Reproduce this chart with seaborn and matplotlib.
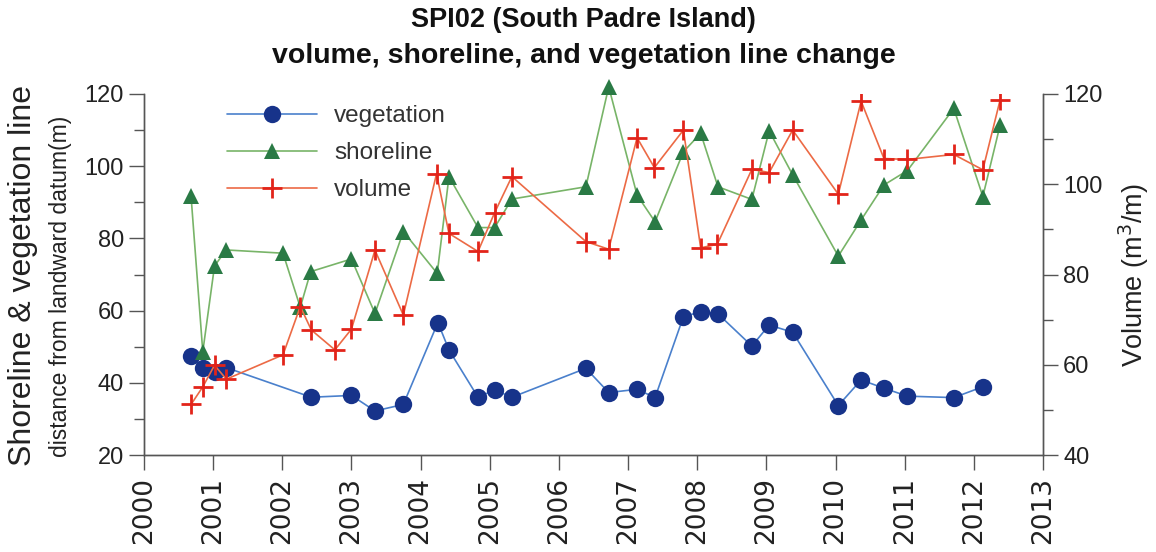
import numpy as np
import pandas as pd
import seaborn as sns
import matplotlib.pyplot as plt
from matplotlib.ticker import MultipleLocator
from matplotlib.lines import Line2D

sns.set_style('white')
plt.rcParams['font.family'] = ['Liberation Sans', 'DejaVu Sans']

# 植被线 (m)
veg_year = [2000.68, 2000.85, 2001.02, 2001.19, 2002.42, 2003.00, 2003.34, 2003.75,
            2004.25, 2004.41, 2004.83, 2005.07, 2005.32, 2006.39, 2006.72, 2007.13,
            2007.39, 2007.80, 2008.05, 2008.30, 2008.79, 2009.04, 2009.38, 2010.04,
            2010.37, 2010.70, 2011.04, 2011.71, 2012.13]
veg_val = [47.4, 44.2, 43.1, 44.2, 36.0, 36.5, 32.2, 34.0,
           56.7, 49.1, 36.0, 38.0, 36.0, 44.0, 37.3, 38.2,
           35.9, 58.3, 59.7, 59.1, 50.2, 56.0, 54.0, 33.7,
           40.8, 38.5, 36.3, 35.9, 38.9]

# 岸线 (m)
shore_year = [2000.68, 2000.85, 2001.02, 2001.19, 2002.01, 2002.26, 2002.41, 2003.00,
              2003.34, 2003.75, 2004.24, 2004.41, 2004.83, 2005.07, 2005.32, 2006.39,
              2006.72, 2007.13, 2007.39, 2007.80, 2008.05, 2008.30, 2008.79, 2009.04,
              2009.38, 2010.04, 2010.37, 2010.70, 2011.04, 2011.71, 2012.13, 2012.38]
shore_val = [91.8, 48.6, 72.4, 76.8, 75.9, 60.9, 70.8, 74.3,
             59.2, 81.9, 70.3, 97.1, 83.0, 83.0, 90.9, 94.3,
             122.0, 92.0, 84.6, 104.0, 109.1, 94.3, 90.8, 109.8,
             97.6, 75.1, 85.1, 94.8, 98.8, 116.0, 91.6, 111.4]

# 体积 (m3/m)
vol_year = [2000.68, 2000.85, 2001.02, 2001.19, 2002.01, 2002.26, 2002.42, 2002.76,
            2003.00, 2003.34, 2003.75, 2004.23, 2004.41, 2004.83, 2005.07, 2005.32,
            2006.39, 2006.72, 2007.13, 2007.38, 2007.80, 2008.05, 2008.29, 2008.79,
            2009.04, 2009.38, 2010.04, 2010.37, 2010.70, 2011.04, 2011.71, 2012.13,
            2012.38]
vol_val = [51.2, 55.1, 59.9, 56.8, 62.2, 72.9, 67.7, 63.3,
           67.9, 85.4, 71.0, 102.3, 89.1, 85.1, 93.7, 101.7,
           87.3, 85.6, 110.3, 103.7, 112.0, 85.9, 86.7, 103.3,
           102.6, 112.0, 97.8, 118.4, 105.7, 105.5, 106.6, 103.2,
           118.7]

years = list(range(2000, 2014))

fig = plt.figure(figsize=(11.56, 5.52), dpi=100)
ax = fig.add_axes([144 / 1156, 1 - 455 / 552, (1043 - 144) / 1156, (455 - 94) / 552])
ax2 = ax.twinx()

c_veg_line, c_veg_mk = '#4a80cc', '#17338a'
c_sh_line, c_sh_mk = '#78b468', '#2a7a45'
c_vol_line, c_vol_mk = '#ec6a45', '#e2241a'

sns.lineplot(x=veg_year, y=veg_val, ax=ax, estimator=None, sort=False,
             color=c_veg_line, lw=1.2, marker='o', markersize=12.5,
             markerfacecolor=c_veg_mk, markeredgecolor=c_veg_mk, markeredgewidth=0)
sns.lineplot(x=shore_year, y=shore_val, ax=ax, estimator=None, sort=False,
             color=c_sh_line, lw=1.2, marker='^', markersize=12,
             markerfacecolor=c_sh_mk, markeredgecolor=c_sh_mk, markeredgewidth=0,
             clip_on=False)
sns.lineplot(x=vol_year, y=vol_val, ax=ax2, estimator=None, sort=False,
             color=c_vol_line, lw=1.2, marker='+', markersize=15,
             markeredgecolor=c_vol_mk, markeredgewidth=2.0)

ax.set_xlim(2000, 2013)
ax.set_ylim(20, 120)
ax2.set_ylim(40, 120)
ax.set_xticks(years)
ax.set_xticklabels([str(y) for y in years], rotation=90, fontsize=19,
                   family=['DejaVu Sans'], color='#222222')
ax.yaxis.set_major_locator(MultipleLocator(20))
ax.yaxis.set_minor_locator(MultipleLocator(10))
ax2.yaxis.set_major_locator(MultipleLocator(20))
ax2.yaxis.set_minor_locator(MultipleLocator(10))
ax.tick_params(axis='y', labelsize=17, length=11, width=1, color='#555555', direction='out',
               left=True, labelcolor='#222222')
ax.tick_params(axis='y', which='minor', length=7, width=1, color='#555555', left=True)
ax.tick_params(axis='x', length=11, width=1, color='#555555', direction='out', bottom=True, pad=5)
ax2.tick_params(axis='y', labelsize=17, length=11, width=1, color='#555555', direction='out',
                right=True, labelcolor='#222222')
ax2.tick_params(axis='y', which='minor', length=7, width=1, color='#555555', right=True)
ax.set_xlabel('')
ax.set_ylabel('')
ax2.set_ylabel('')

for a in (ax, ax2):
    a.spines['top'].set_visible(False)
    for s in ('left', 'bottom', 'right'):
        a.spines[s].set_color('#555555')
        a.spines[s].set_linewidth(1)

# 标题和轴标签
fig.text(0.505, 1 - 20 / 552, 'SPI02 (South Padre Island)', ha='center', va='center',
         fontsize=19.5, fontweight='bold', color='#111111')
fig.text(0.505, 1 - 56 / 552, 'volume, shoreline, and vegetation line change', ha='center', va='center',
         fontsize=20.5, fontweight='bold', color='#111111')
fig.text(23 / 1156, 1 - 275 / 552, 'Shoreline & vegetation line', rotation=90,
         ha='center', va='center', fontsize=23, color='#222222')
fig.text(61 / 1156, 1 - 286 / 552, 'distance from landward datum(m)', rotation=90,
         ha='center', va='center', fontsize=16.5, color='#222222')
fig.text(1134 / 1156, 1 - 275 / 552, 'Volume (m$^3$/m)', rotation=90,
         ha='center', va='center', fontsize=19.5, color='#222222')

handles = [
    Line2D([], [], color=c_veg_line, lw=1.2, marker='o', markersize=12.5,
           markerfacecolor=c_veg_mk, markeredgewidth=0),
    Line2D([], [], color=c_sh_line, lw=1.2, marker='^', markersize=12,
           markerfacecolor=c_sh_mk, markeredgewidth=0),
    Line2D([], [], color=c_vol_line, lw=1.2, marker='+', markersize=15,
           markeredgecolor=c_vol_mk, markeredgewidth=2.0),
]
ax2.legend(handles, ['vegetation', 'shoreline', 'volume'], loc='upper left',
           bbox_to_anchor=(0.068, 1.03), frameon=False, fontsize=17.5,
           handlelength=3.7, handletextpad=0.7, labelspacing=0.62, labelcolor='#333333')

fig.savefig('out.png', dpi=100)
